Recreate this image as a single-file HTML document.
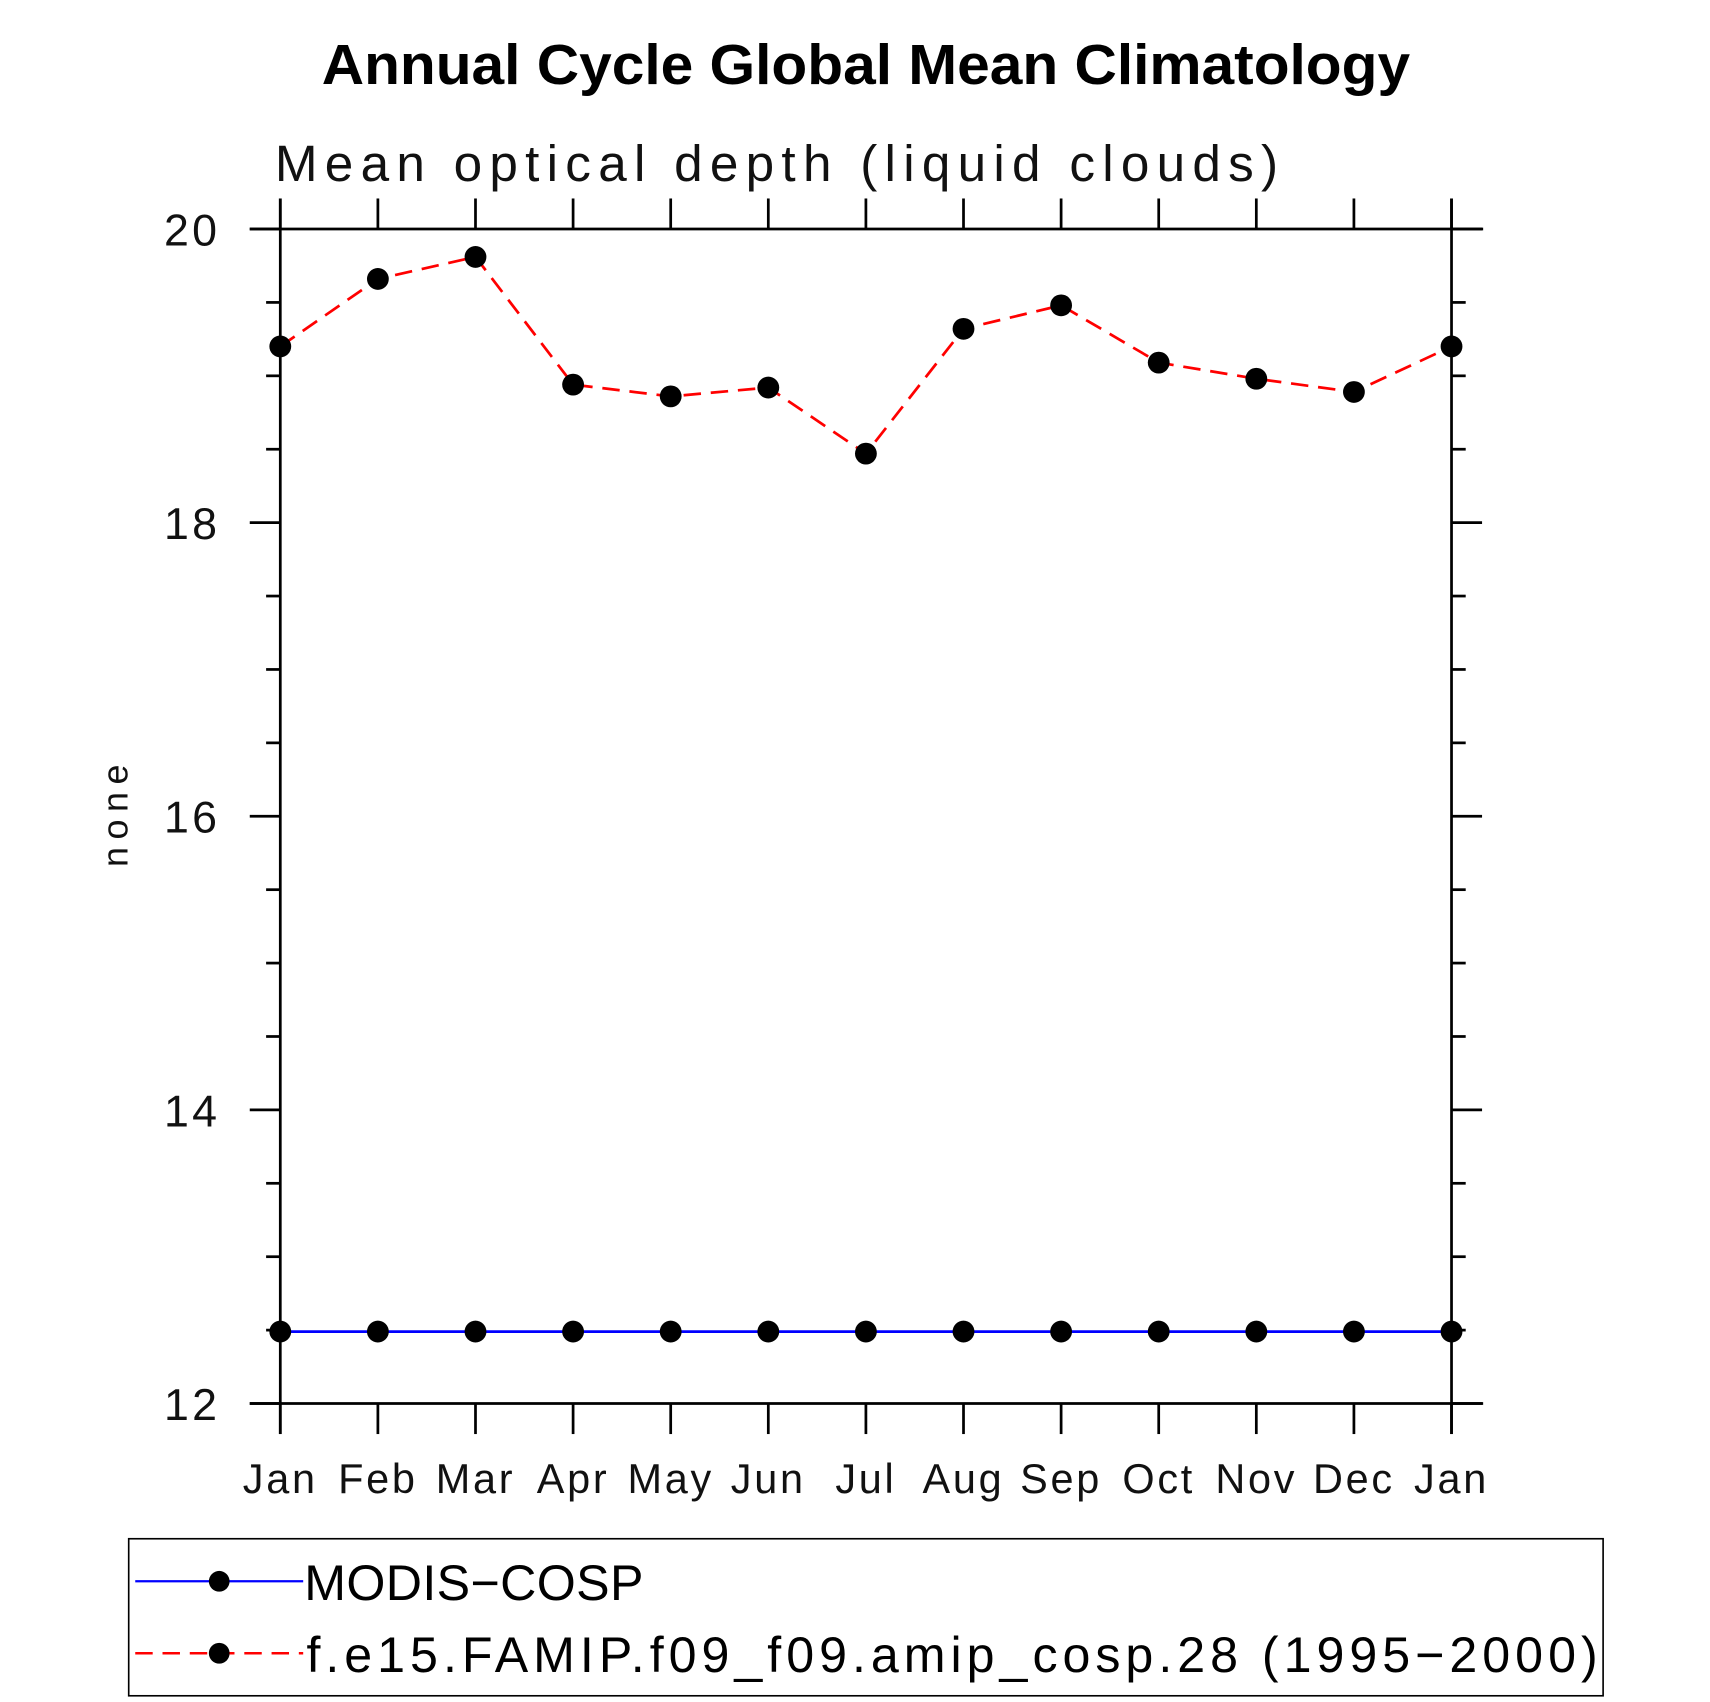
<!DOCTYPE html>
<html><head><meta charset="utf-8"><style>
html,body{margin:0;padding:0;background:#fff;}
svg{display:block;}
text{font-family:"Liberation Sans","DejaVu Sans",sans-serif;}
</style></head><body>
<svg id="chart" width="1710" height="1702" viewBox="0 0 1568 1560.7" xmlns="http://www.w3.org/2000/svg">
<text x="295" y="77" font-size="52" font-weight="bold" textLength="998" lengthAdjust="spacingAndGlyphs">Annual Cycle Global Mean Climatology</text>
<text x="252" y="166" font-size="47" fill="#111" textLength="920" lengthAdjust="spacing">Mean optical depth (liquid clouds)</text>
<text transform="translate(117,748) rotate(-90)" text-anchor="middle" font-size="33" fill="#111" textLength="94" lengthAdjust="spacing">none</text>
<g id="axes"></g>
<g id="series"></g>
<g>
<rect x="118" y="1411" width="1352" height="144" fill="none" stroke="#000" stroke-width="1.5"/>
<g>
<line x1="124" y1="1450" x2="278" y2="1450" stroke="#0000ff" stroke-width="2"/>
<circle cx="201" cy="1450" r="9.5" fill="#000"/>
<text x="279" y="1467" font-size="46" textLength="311" lengthAdjust="spacing">MODIS−COSP</text>
</g>
<g>
<line x1="124" y1="1516" x2="278" y2="1516" stroke="#ff0000" stroke-width="2.2" stroke-dasharray="16,9"/>
<circle cx="201" cy="1516" r="9.5" fill="#000"/>
<text x="281" y="1533" font-size="46" textLength="1184" lengthAdjust="spacing">f.e15.FAMIP.f09_f09.amip_cosp.28 (1995−2000)</text>
</g>
</g>
</svg>
<script>
const months = ["Jan","Feb","Mar","Apr","May","Jun","Jul","Aug","Sep","Oct","Nov","Dec","Jan"];
const modelValues = [19.20,19.66,19.81,18.94,18.86,18.92,18.47,19.32,19.48,19.09,18.98,18.89,19.20];
const obsValues = [12.49,12.49,12.49,12.49,12.49,12.49,12.49,12.49,12.49,12.49,12.49,12.49,12.49];
const yTicks = [12,14,16,18,20];
const yMin = 12, yMax = 20;
const X0 = 257, X1 = 1331, Y0 = 1287, Y1 = 210;
const NS = "http://www.w3.org/2000/svg";
function xs(i){ return X0 + (X1 - X0) * i / (months.length - 1); }
function ys(v){ return Y0 - (Y0 - Y1) * (v - yMin) / (yMax - yMin); }
function mk(tag, attrs, parent){ const e = document.createElementNS(NS, tag); for (const k in attrs) e.setAttribute(k, attrs[k]); parent.appendChild(e); return e; }
const axes = document.getElementById('axes');
const series = document.getElementById('series');
const ln = {stroke:"#000","stroke-width":2.5};
let f = mk('line', Object.assign({x1:229,y1:Y1,x2:1360,y2:Y1}, ln), axes);


f = mk('line', Object.assign({x1:229,y1:Y0,x2:1360,y2:Y0}, ln), axes);


f = mk('line', Object.assign({x1:X0,y1:182,x2:X0,y2:1315}, ln), axes);


f = mk('line', Object.assign({x1:X1,y1:182,x2:X1,y2:1315}, ln), axes);


months.forEach((m, i) => {
  const x = xs(i);
  mk('line', Object.assign({x1:x,y1:182,x2:x,y2:Y1}, ln), axes);
  mk('line', Object.assign({x1:x,y1:Y0,x2:x,y2:1315}, ln), axes);
  const t = mk('text', {x:x, y:1369, "text-anchor":"middle", "font-size":38, "letter-spacing":2.5, fill:"#111"}, axes);
  t.textContent = m;
  
  
});
for (let v = yMin; v <= yMax + 1e-9; v += 0.5) {
  const y = ys(v);
  const major = Math.abs(v - Math.round(v / 2) * 2) < 1e-9;
  const len = major ? 28 : 13;
  mk('line', Object.assign({x1:X0-len,y1:y,x2:X0,y2:y}, ln), axes);
  mk('line', Object.assign({x1:X1,y1:y,x2:X1+len,y2:y}, ln), axes);
}
yTicks.forEach(v => {
  const t = mk('text', {x:202, y:ys(v)+15, "text-anchor":"end", "font-size":41, "letter-spacing":3, fill:"#111"}, axes);
  t.textContent = String(v);
  
  
});
function drawSeries(vals, color, dash, name){
  const pts = vals.map((v, i) => xs(i) + "," + ys(v)).join(" ");
  const p = mk('polyline', {points:pts, fill:"none", stroke:color, "stroke-width":2.5, "stroke-dasharray":dash}, series);
  
  
  vals.forEach((v, i) => {
    const c = mk('circle', {cx:xs(i), cy:ys(v), r:10, fill:"#000"}, series);
    
    
  });
}
drawSeries(obsValues, "#0000ff", "none", "modis-cosp");
drawSeries(modelValues, "#ff0000", "16,9", "model");
</script>
</body></html>
